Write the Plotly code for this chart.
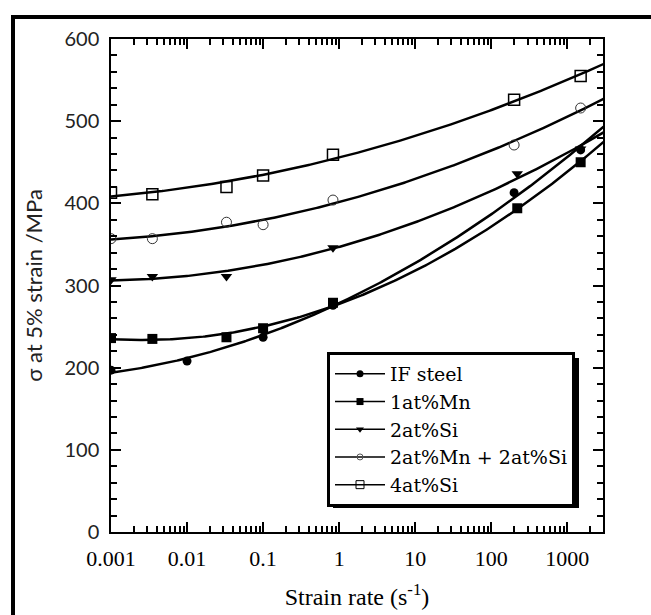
import numpy as np
import plotly.graph_objects as go

# ---- data ----
rate_if = [0.001, 0.01, 0.1, 0.83, 200, 1500]
sig_if = [197, 208, 237, 276, 413, 465]

rate_mn = [0.001, 0.0035, 0.033, 0.1, 0.83, 220, 1500]
sig_mn = [236, 235, 237, 248, 279, 394, 450]

rate_si2 = [0.001, 0.0035, 0.033, 0.83, 220, 1500]
sig_si2 = [307, 311, 311, 346, 436, 466]

rate_mnsi = [0.001, 0.0035, 0.033, 0.1, 0.83, 200, 1500]
sig_mnsi = [357, 357, 377, 374, 404, 471, 516]

rate_si4 = [0.001, 0.0035, 0.033, 0.1, 0.83, 200, 1500]
sig_si4 = [413, 411, 420, 434, 459, 526, 555]

names = ["IF steel", "1at%Mn", "2at%Si", "2at%Mn + 2at%Si", "4at%Si"]
x_tickvals = [0.001, 0.01, 0.1, 1, 10, 100, 1000]
x_ticktext = ["0.001", "0.01", "0.1", "1", "10", "100", "1000"]
x_minor = [k * d for d in x_tickvals for k in range(2, 10) if k * d < 2900]
y_minor = list(range(0, 601, 20))

series = [
    (rate_if, sig_if, dict(symbol="circle", size=9, color="black"),
     dict(symbol="circle", size=7, color="black")),
    (rate_mn, sig_mn, dict(symbol="square", size=10, color="black"),
     dict(symbol="square", size=7, color="black")),
    (rate_si2, sig_si2, dict(symbol="triangle-down", size=10, color="black"),
     dict(symbol="triangle-down", size=7, color="black")),
    (rate_mnsi, sig_mnsi, dict(symbol="circle-open", size=10, color="#333", line=dict(width=1)),
     dict(symbol="circle-open", size=6, color="#555", line=dict(width=1))),
    (rate_si4, sig_si4, dict(symbol="square-open", size=11, color="black", line=dict(width=1.5)),
     dict(symbol="square-open", size=8, color="black", line=dict(width=1))),
]

fig = go.Figure()
grid = np.logspace(-3, np.log10(3000), 300)
for (xs, ys, mk, lmk), nm in zip(series, names):
    coef = np.polyfit(np.log10(xs), ys, 2)
    fit = np.polyval(coef, np.log10(grid))
    fig.add_trace(go.Scatter(x=grid, y=fit, mode="lines", showlegend=False,
                             line=dict(color="black", width=2.5), hoverinfo="skip"))
    fig.add_trace(go.Scatter(x=xs, y=ys, mode="markers", showlegend=False, marker=mk))
    fig.add_trace(go.Scatter(x=[None], y=[None], mode="lines+markers", name=nm,
                             line=dict(color="black", width=1.5), marker=lmk))

# invisible trace that lives on the overlay axes so they are drawn
fig.add_trace(go.Scatter(x=[None], y=[None], xaxis="x2", yaxis="y2",
                         mode="markers", showlegend=False, hoverinfo="skip"))

L, R, T, B = 111, 48, 39, 83
W, H = 651, 615
pw, ph = W - L - R, H - T - B

def px(xp):
    return (xp - L) / pw

def py(yp):
    return (H - B - yp) / ph

fig.update_layout(
    width=W, height=H,
    margin=dict(l=L, r=R, t=T, b=B, pad=0, autoexpand=False),
    paper_bgcolor="white", plot_bgcolor="white",
    showlegend=True,
    legend=dict(x=px(327), y=py(352), xanchor="left", yanchor="top",
                bgcolor="white", bordercolor="black", borderwidth=3,
                font=dict(family="DejaVu Serif", size=19, color="black"),
                itemwidth=50, tracegroupgap=0),
    shapes=[
        dict(type="line", xref="paper", yref="paper",
             x0=px(13), x1=px(13), y0=py(17), y1=py(640),
             line=dict(color="black", width=4)),
        dict(type="line", xref="paper", yref="paper",
             x0=px(11), x1=px(660), y0=py(17), y1=py(17),
             line=dict(color="black", width=4)),
        # legend drop shadow
        dict(type="rect", xref="paper", yref="paper",
             x0=px(333), x1=px(579), y0=py(508), y1=py(358),
             fillcolor="black", line=dict(width=0)),
    ],
    xaxis2=dict(type="log", overlaying="x", anchor="y", range=[-3, 3.47],
                tickvals=x_minor, showticklabels=False, ticks="inside",
                ticklen=6, tickwidth=1.5, tickcolor="black", mirror="allticks",
                showline=False, showgrid=False, zeroline=False, automargin=False),
    yaxis2=dict(overlaying="y", anchor="x", range=[0, 600],
                tickvals=y_minor, showticklabels=False, ticks="inside",
                ticklen=6, tickwidth=1.5, tickcolor="black", mirror="allticks",
                showline=False, showgrid=False, zeroline=False, automargin=False),
)

fig.layout.xaxis.update(
    type="log", range=[-3, 3.47],
    tickvals=x_tickvals, ticktext=x_ticktext,
    ticks="inside", ticklen=10, tickwidth=1.5, tickcolor="black",
    minor=dict(ticks="inside", ticklen=6, tickwidth=1.5, tickcolor="black",
               dtick="D1", showgrid=False),
    showline=True, linecolor="black", linewidth=1.5, mirror="allticks",
    showgrid=False, zeroline=False, automargin=False,
    tickfont=dict(family="Liberation Serif", size=22, color="black"),
    ticklabelstandoff=6,
    title=dict(text="Strain rate (s<sup>-1</sup>)", standoff=18,
               font=dict(family="Liberation Serif", size=24, color="black")),
)
fig.layout.yaxis.update(
    range=[0, 600], dtick=100,
    ticks="inside", ticklen=10, tickwidth=1.5, tickcolor="black",
    minor=dict(ticks="inside", ticklen=6, tickwidth=1.5, tickcolor="black",
               dtick=20, showgrid=False),
    showline=True, linecolor="black", linewidth=1.5, mirror="allticks",
    showgrid=False, zeroline=False, automargin=False,
    tickfont=dict(family="Lato", size=20, color="#222"),
    ticklabelstandoff=6,
    title=dict(text="σ at 5% strain /MPa", standoff=16,
               font=dict(family="Lato", size=22, color="#222")),
)

fig.write_html("out.html")
